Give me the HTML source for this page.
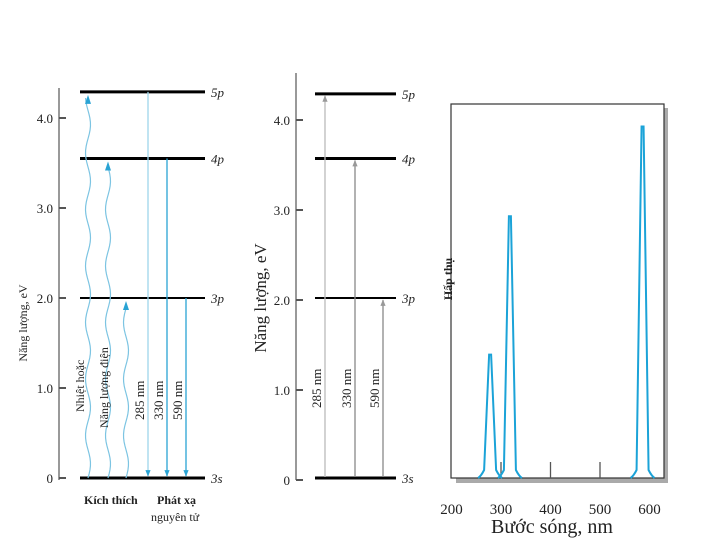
<!DOCTYPE html>
<html><head><meta charset="utf-8"><style>
body{margin:0;background:#fff}
svg{display:block;font-family:"Liberation Serif",serif}
</style></head><body>
<svg id="s" width="720" height="540">
<defs>
<marker id="ab" viewBox="0 0 10 10" refX="9" refY="5" markerWidth="5" markerHeight="6" orient="auto"><path d="M0,1 L10,5 L0,9 z" fill="#29a3d4"/></marker>
<marker id="ag" viewBox="0 0 10 10" refX="9" refY="5" markerWidth="5" markerHeight="6" orient="auto"><path d="M0,1 L10,5 L0,9 z" fill="#999"/></marker>
</defs>
</svg>
<script>
const levelNames=["3s","3p","4p","5p"];
const levelEnergies=[0,2.0,3.55,4.29];
const energyTicks=[0,1,2,3,4];
const energyTickLabels=["0","1.0","2.0","3.0","4.0"];
const transitions=["285 nm","330 nm","590 nm"];
const upperLevelIdx=[3,2,1];
const peakWavelengths=[278,318,586];
const peakHeights=[0.33,0.70,0.94];
const waveTicks=[200,300,400,500,600];

const S=document.getElementById('s');const NS='http://www.w3.org/2000/svg';
function el(t,a,txt){const e=document.createElementNS(NS,t);for(const k in a)e.setAttribute(k,a[k]);if(txt!==undefined)e.textContent=txt;S.appendChild(e);return e;}
const yE=v=>478-90*v;

function panel(axX,axTop,lx1,lx2,lblX,arrowXs,color,tickYoff){
  let ax=el('line',{x1:axX,y1:axTop,x2:axX,y2:480,stroke:'#333','stroke-width':1});
  
  energyTicks.forEach((v,i)=>{
    let t=el('line',{x1:axX,y1:yE(v)+tickYoff,x2:axX+7,y2:yE(v)+tickYoff,stroke:'#555','stroke-width':2});
    
    let l=el('text',{x:axX-6,y:yE(v)+tickYoff+5,'text-anchor':'end','font-size':13,fill:'#222'},energyTickLabels[i]);
    
  });
  levelEnergies.forEach((v,i)=>{
    let y=yE(v)+(i==3?tickYoff:0);
    let l=el('line',{x1:lx1,y1:y,x2:lx2,y2:y,stroke:'#000','stroke-width':i==1?2:3});
    
    let t=el('text',{x:lblX,y:y+5,'font-size':13,'font-style':'italic',fill:'#222'},levelNames[i]);
    
  });
  transitions.forEach((tr,i)=>{
    const x=arrowXs[i];const yT=yE(levelEnergies[upperLevelIdx[i]])+(upperLevelIdx[i]==3?tickYoff:0);
    let a;
    if(color=='blue'){
      a=el('line',{x1:x,y1:yT,x2:x,y2:476,stroke:i==0?'#9fd6ec':'#29a3d4','stroke-width':1.3,'marker-end':'url(#ab)'});
    }else{
      a=el('line',{x1:x,y1:477,x2:x,y2:yT+2,stroke:i==0?'#bbb':'#888','stroke-width':1.3,'marker-end':'url(#ag)'});
    }
    
    let t=el('text',{transform:`translate(${x-4},${color=='blue'?420:408}) rotate(-90)`,'font-size':13,fill:'#222'},tr);
    
  });
}
panel(59,88,80,205,211,[148,167,186],'blue',0);
panel(296,73,315,396,402,[325,355,383],'gray',2);

const wavyX=[88,108,126];
[3,2,1].forEach((li,i)=>{
  const x=wavyX[i],yT=yE(levelEnergies[li])+6;let d=`M${x},478`;
  for(let y=478;y>yT;y-=4){d+=` L${x+2.5*Math.sin((478-y)/9)},${y}`;}
  let p=el('path',{d:d,fill:'none',stroke:'#7cc4e2','stroke-width':1.2});
  
  let h=el('path',{d:`M${x-3},${yT+6} L${x},${yT-3} L${x+3},${yT+6} z`,fill:'#29a3d4'});
  
});
let t;
t=el('text',{transform:'translate(84,412) rotate(-90)','font-size':12,fill:'#222'},'Nhiệt hoặc');
t=el('text',{transform:'translate(108,428) rotate(-90)','font-size':12,fill:'#222'},'Năng lượng điện');
t=el('text',{transform:'translate(27,323) rotate(-90)','font-size':12,fill:'#222','text-anchor':'middle'},'Năng lượng, eV');
t=el('text',{transform:'translate(266,298) rotate(-90)','font-size':17,fill:'#222','text-anchor':'middle'},'Năng lượng, eV');
t=el('text',{x:84,y:504,'font-size':12,'font-weight':'bold',fill:'#222'},'Kích thích');
t=el('text',{x:157,y:504,'font-size':12,'font-weight':'bold',fill:'#222'},'Phát xạ');
t=el('text',{x:151,y:521,'font-size':12,fill:'#222'},'nguyên tử');

const X0=451.5,PX=0.495,YB=478,YH=374;
const xW=w=>X0+(w-200)*PX, yA=a=>YB-a*YH;
let sh=el('path',{d:'M664,108 L668,108 L668,483 L456,483 L456,478 L664,478 z',fill:'#aaa'});

let fr=el('rect',{x:451,y:104,width:213,height:374,fill:'#fff',stroke:'#333','stroke-width':1.2});

waveTicks.forEach(w=>{
  if(w>200&&w<600){let k=el('line',{x1:xW(w),y1:478,x2:xW(w),y2:462,stroke:'#555','stroke-width':1.3});}
  let l=el('text',{x:xW(w),y:514,'text-anchor':'middle','font-size':15,fill:'#222'},String(w));
  
});
peakWavelengths.forEach((w,i)=>{
  const c=xW(w),top=yA(peakHeights[i]);
  const d=`M${c-12},${YB} Q${c-9},${YB-2} ${c-6},${YB-8} L${c-1},${top} L${c+1},${top} L${c+6},${YB-8} Q${c+9},${YB-2} ${c+12},${YB}`;
  let p=el('path',{d:d,fill:'none',stroke:'#1ba3d8','stroke-width':2});
  
});
t=el('text',{transform:'translate(452,279) rotate(-90)','font-size':12,'font-weight':'bold',fill:'#222','text-anchor':'middle'},'Hấp thụ');
t=el('text',{x:552,y:533,'text-anchor':'middle','font-size':20,fill:'#222'},'Bước sóng, nm');
</script>
</body></html>
